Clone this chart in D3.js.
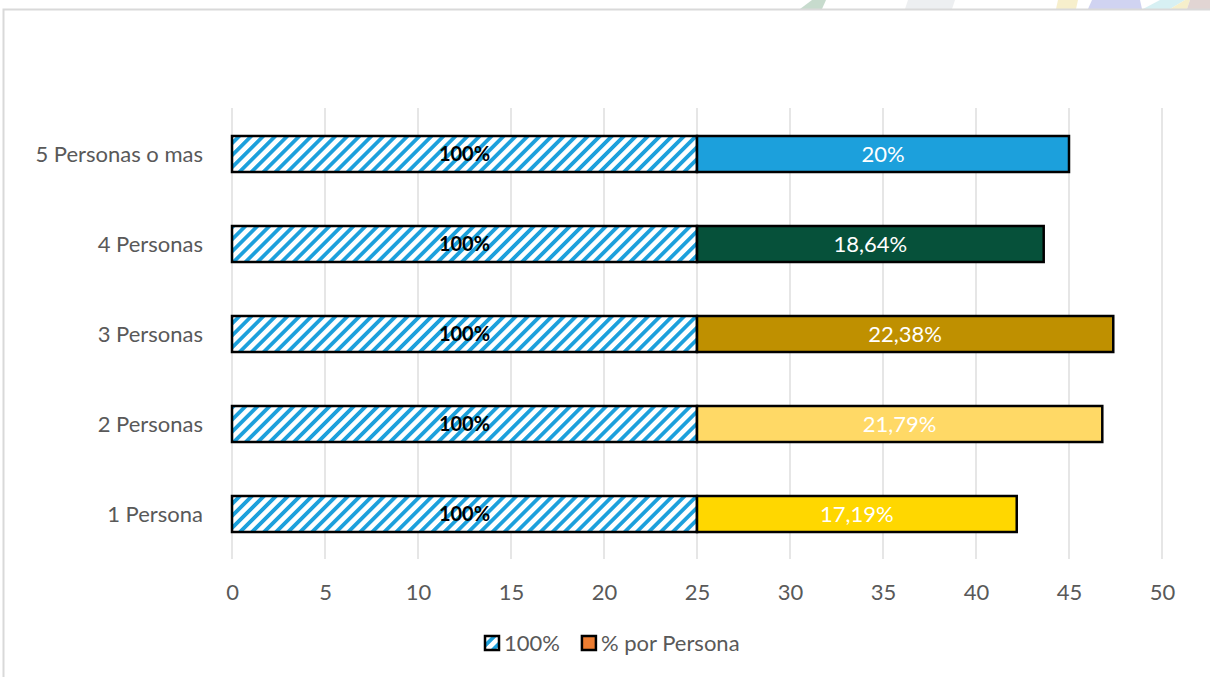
<!DOCTYPE html>
<html>
<head>
<meta charset="utf-8">
<script src="https://cdn.jsdelivr.net/npm/d3@7"></script>
<style>
  html, body { margin: 0; padding: 0; background: #fff; }
  svg { display: block; font-family: Lato, "Open Sans", sans-serif; }
</style>
</head>
<body>
<svg id="chart" width="1210" height="677"></svg>
<script>
// ---- data ----
const categories = ["1 Persona", "2 Personas", "3 Personas", "4 Personas", "5 Personas o mas"];
const baseValues = [25, 25, 25, 25, 25];
const baseLabels = ["100%", "100%", "100%", "100%", "100%"];
const personaValues = [17.19, 21.79, 22.38, 18.64, 20];
const personaLabels = ["17,19%", "21,79%", "22,38%", "18,64%", "20%"];
const personaColors = ["#FFD700", "#FFD966", "#BF9000", "#06513A", "#1CA0DC"];
const seriesNames = ["100%", "% por Persona"];
const legendColors = ["hatch", "#ED7D31"];
const xTicks = [0, 5, 10, 15, 20, 25, 30, 35, 40, 45, 50];

// ---- setup ----
const svg = d3.select("#chart");
const W = 1210, H = 677;
const plot = { left: 232, right: 1162, top: 109, bottom: 559 };
const textGrey = "#595959";
const blue = "#1CA0DC";

const defs = svg.append("defs");
const pat = defs.append("pattern")
  .attr("id", "hatch")
  .attr("patternUnits", "userSpaceOnUse")
  .attr("width", 8.5).attr("height", 8.5)
  .attr("patternTransform", "rotate(45)");
pat.append("rect").attr("width", 8.5).attr("height", 8.5).attr("fill", "#fff");
pat.append("rect").attr("x", 0).attr("y", 0).attr("width", 3.8).attr("height", 8.5).attr("fill", blue);

// faint background fragments (image behind the chart frame, top-right)
const bg = svg.append("g").attr("opacity", 0.55);
bg.append("path").attr("d", "M800,9 L812,0 L826,0 L822,9 Z").attr("fill", "#9bbfa6");
bg.append("path").attr("d", "M905,9 L908,0 L955,0 L952,9 Z").attr("fill", "#dfe3e6");
bg.append("path").attr("d", "M1056,9 L1058,0 L1078,0 L1076,9 Z").attr("fill", "#f2e2a4");
bg.append("path").attr("d", "M1088,9 L1092,0 L1140,0 L1142,9 Z").attr("fill", "#aab0e6");
bg.append("path").attr("d", "M1143,9 L1160,0 L1185,0 L1170,9 Z").attr("fill", "#b7e4ea");
bg.append("path").attr("d", "M1170,9 L1185,0 L1190,0 L1187,9 Z").attr("fill", "#efe3a2");
bg.append("path").attr("d", "M1187,9 L1190,0 L1210,0 L1210,9 Z").attr("fill", "#c9b3b0");

// chart frame
svg.append("path")
  .attr("d", `M3.5,${H} L3.5,9.5 L${W},9.5`)
  .attr("fill", "none").attr("stroke", "#D9D9D9").attr("stroke-width", 2);

// scales
const x = d3.scaleLinear().domain([0, 50]).range([plot.left, plot.right]);
const y = d3.scaleBand().domain(categories.slice().reverse())
  .range([plot.top, plot.bottom]).paddingInner(0.6).paddingOuter(0.3);

// gridlines
svg.append("g").selectAll("line").data(xTicks).join("line")
  .attr("x1", d => x(d)).attr("x2", d => x(d))
  .attr("y1", plot.top - 1).attr("y2", plot.bottom)
  .attr("stroke", "#D9D9D9").attr("stroke-width", 1.3);

// x axis labels
const xAxis = d3.axisBottom(x).tickValues(xTicks).tickSize(0).tickPadding(0).tickFormat(d3.format("d"));
const xg = svg.append("g").attr("transform", `translate(0,${plot.bottom})`).call(xAxis);
xg.select(".domain").remove();
xg.selectAll("text").attr("y", 33).attr("dy", "0.35em")
  .attr("fill", textGrey).style("font-size", "22px").style("font-family", "Lato, sans-serif");

// y axis labels
const yAxis = d3.axisLeft(y).tickSize(0).tickPadding(0);
const yg = svg.append("g").attr("transform", `translate(${plot.left - 29},0)`).call(yAxis);
yg.select(".domain").remove();
yg.selectAll("text").attr("fill", textGrey).style("font-size", "22px")
  .style("font-family", "Lato, sans-serif").attr("dy", "0.35em");

const rows = categories.map((c, i) => ({
  cat: c, base: baseValues[i], baseLabel: baseLabels[i],
  val: personaValues[i], label: personaLabels[i], color: personaColors[i]
}));

// base (hatched) bars
svg.append("g").selectAll("rect").data(rows).join("rect")
  .attr("x", x(0)).attr("y", d => y(d.cat))
  .attr("width", d => x(d.base) - x(0)).attr("height", y.bandwidth())
  .attr("fill", "url(#hatch)").attr("stroke", "#000").attr("stroke-width", 2.5);

// persona bars
svg.append("g").selectAll("rect").data(rows).join("rect")
  .attr("x", d => x(d.base)).attr("y", d => y(d.cat))
  .attr("width", d => x(d.base + d.val) - x(d.base)).attr("height", y.bandwidth())
  .attr("fill", d => d.color).attr("stroke", "#000").attr("stroke-width", 2.5);

// labels
svg.append("g").selectAll("text").data(rows).join("text")
  .attr("x", d => x(d.base / 2)).attr("y", d => y(d.cat) + y.bandwidth() / 2)
  .attr("dy", "0.35em").attr("text-anchor", "middle")
  .attr("fill", "#000").style("font-weight", "bold").style("font-size", "20px")
  .text(d => d.baseLabel);

svg.append("g").selectAll("text").data(rows).join("text")
  .attr("x", d => x(d.base + d.val / 2)).attr("y", d => y(d.cat) + y.bandwidth() / 2)
  .attr("dy", "0.35em").attr("text-anchor", "middle")
  .attr("fill", "#fff").style("font-size", "22px")
  .text(d => d.label);

// legend
const legend = svg.append("g").attr("transform", "translate(485,643)");
const items = seriesNames.map((n, i) => ({ name: n, color: legendColors[i] }));
let lx = 0;
items.forEach((it, i) => {
  const g = legend.append("g").attr("transform", `translate(${lx},0)`);
  g.append("rect").attr("x", 0).attr("y", -7).attr("width", 14).attr("height", 14)
    .attr("fill", it.color === "hatch" ? "url(#hatch)" : it.color)
    .attr("stroke", "#000").attr("stroke-width", 2.5);
  const t = g.append("text").attr("x", 19).attr("y", 0).attr("dy", "0.35em")
    .attr("fill", textGrey).style("font-size", "22px").text(it.name);
  lx += 19 + t.node().getComputedTextLength() + 22;
});
</script>
</body>
</html>
